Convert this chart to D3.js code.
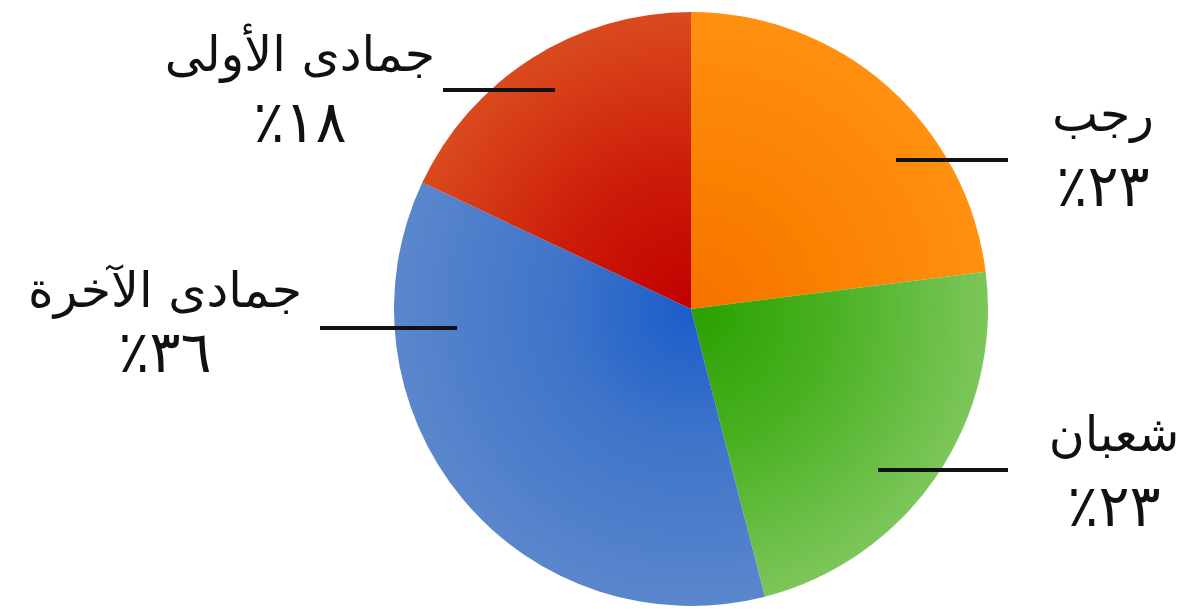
<!DOCTYPE html>
<html lang="ar">
<head>
<meta charset="utf-8">
<script src="https://cdn.jsdelivr.net/npm/d3@7/dist/d3.min.js"></script>
<style>
  html, body { margin: 0; padding: 0; background: #fff; }
  svg { display: block; }
  text { font-family: "DejaVu Sans", sans-serif; fill: #111; }
</style>
</head>
<body>
<svg id="chart" width="1181" height="609"></svg>
<script>
// ---- data ----
const months = ["رجب", "شعبان", "جمادى الآخرة", "جمادى الأولى"];
const values = [23, 23, 36, 18];
const pctLabels = ["٪٢٣", "٪٢٣", "٪٣٦", "٪١٨"];

// ---- styles / layout ----
const innerColors = ["#f47200", "#29a000", "#1a5dca", "#c00000"];
const midColors   = ["#fa8000", "#48b020", "#3f74c9", "#cc1a08"];
const outerColors = ["#ff9010", "#7cc65a", "#5a86cc", "#da4a1e"];
const W = 1181, H = 609;
const cx = 691, cy = 309, R = 297;
// label layout: line (x1,x2,y) and text centre / baselines
const layout = [
  { x1: 896, x2: 1008, ly: 160, tx: 1103, b1: 131, b2: 206 },
  { x1: 878, x2: 1008, ly: 470, tx: 1114, b1: 451, b2: 526 },
  { x1: 320, x2: 457, ly: 328, tx: 165, b1: 307, b2: 372 },
  { x1: 443, x2: 555, ly: 90, tx: 300, b1: 71, b2: 142 }
];

const svg = d3.select("#chart");
const defs = svg.append("defs");

values.forEach((v, i) => {
  const g = defs.append("radialGradient")
    .attr("id", "grad" + i)
    .attr("gradientUnits", "userSpaceOnUse")
    .attr("cx", 0).attr("cy", 0).attr("r", R);
  g.append("stop").attr("offset", "0%").attr("stop-color", innerColors[i]);
  g.append("stop").attr("offset", "45%").attr("stop-color", midColors[i]);
  g.append("stop").attr("offset", "100%").attr("stop-color", outerColors[i]);
});

const pie = d3.pie().sort(null).value(d => d)(values);
const arc = d3.arc().innerRadius(0).outerRadius(R);

const g = svg.append("g").attr("transform", `translate(${cx},${cy})`);
g.selectAll("path")
  .data(pie)
  .join("path")
  .attr("d", arc)
  .attr("fill", (d, i) => `url(#grad${i})`);

const labels = svg.append("g");
layout.forEach((L, i) => {
  labels.append("line")
    .attr("x1", L.x1).attr("x2", L.x2)
    .attr("y1", L.ly).attr("y2", L.ly)
    .attr("stroke", "#111").attr("stroke-width", 4);
  labels.append("text")
    .attr("x", L.tx).attr("y", L.b1)
    .attr("text-anchor", "middle")
    .attr("direction", "rtl")
    .style("font-size", "49px")
    .text(months[i]);
  labels.append("text")
    .attr("x", L.tx).attr("y", L.b2)
    .attr("text-anchor", "middle")
    .style("font-size", "58px")
    .text(pctLabels[i]);
});
</script>
</body>
</html>
